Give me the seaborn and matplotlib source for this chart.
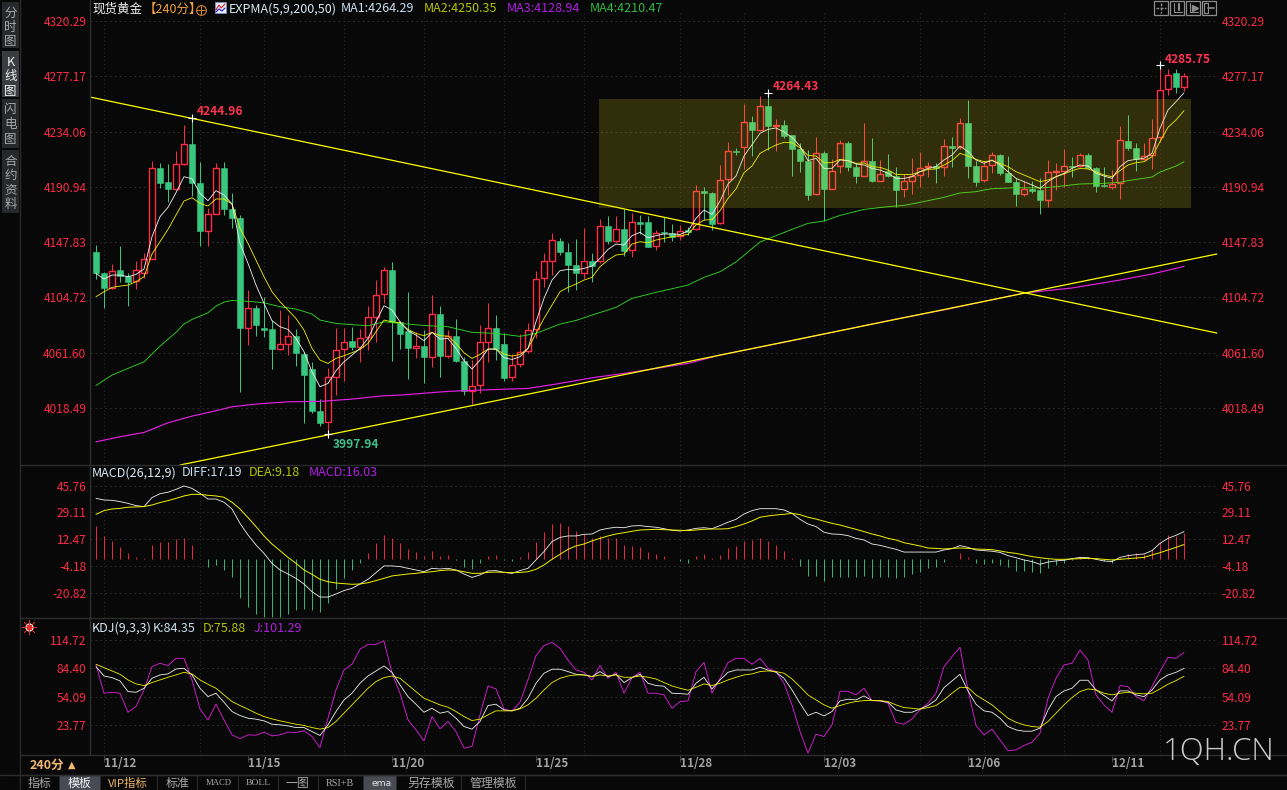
import numpy as np
import matplotlib
matplotlib.use("Agg")
import matplotlib.pyplot as plt
from matplotlib.patches import Rectangle
import seaborn as sns

# --------------------------
# candles
# --------------------------
opens = [4140.1,4123.8,4112.3,4126.1,4121.7,4117.5,4124.0,4134.9,4205.7,4194.7,4189.5,4209.0,4224.4,4194.0,4156.8,4170.0,4205.7,4173.7,4166.7,4081.1,
         4096.2,4080.9,4080.1,4064.2,4068.6,4074.6,4060.6,4048.9,4016.1,4007.8,4042.9,4064.2,4070.7,4066.3,4074.1,4089.7,4107.6,4126.1,4085.3,4078.5,
         4065.5,4066.8,4058.5,4091.8,4059.3,4074.6,4055.1,4031.7,4036.1,4070.2,4080.9,4068.4,4042.4,4052.5,4062.7,4079.8,4119.6,4132.9,4148.7,4140.1,
         4130.0,4124.0,4133.1,4132.9,4160.4,4149.0,4158.1,4141.4,4163.3,4163.3,4144.6,4155.7,4154.7,4152.9,4157.3,4157.8,4187.7,4185.9,4162.5,4196.8,
         4218.9,4221.8,4241.5,4235.6,4254.0,4238.4,4239.2,4231.4,4220.5,4211.1,4185.1,4217.1,4189.5,4207.5,4225.2,4206.4,4199.7,4211.1,4195.8,4203.1,
         4199.4,4189.0,4195.8,4200.2,4206.4,4207.2,4206.2,4222.6,4221.8,4240.8,4207.2,4196.6,4207.7,4215.5,4201.8,4194.7,4185.6,4189.0,4188.5,4181.0,
         4202.5,4203.6,4207.0,4207.2,4215.5,4205.4,4192.4,4191.1,4193.7,4226.7,4221.3,4212.9,4216.1,4229.6,4267.0,4279.5,4269.1]
highs = [4145.6,4124.8,4130.8,4144.8,4123.5,4132.9,4139.1,4211.1,4209.3,4208.5,4218.9,4239.2,4244.96,4210.3,4174.2,4209.3,4210.3,4186.4,4169.0,4110.5,
         4098.8,4105.3,4087.1,4094.9,4091.0,4080.1,4062.4,4054.6,4025.5,4049.4,4080.6,4080.6,4081.9,4079.8,4098.3,4118.3,4128.7,4132.1,4086.6,4108.9,
         4078.0,4079.3,4106.3,4098.0,4079.3,4087.9,4058.5,4055.9,4083.2,4100.1,4091.0,4076.7,4060.3,4076.2,4084.5,4125.3,4139.1,4154.7,4150.8,4146.9,
         4150.3,4158.6,4139.1,4165.6,4168.2,4168.2,4173.4,4170.8,4169.0,4168.2,4157.3,4167.2,4162.0,4161.2,4159.9,4192.4,4190.6,4187.2,4208.0,4225.7,
         4221.0,4255.6,4246.2,4261.8,4264.43,4243.6,4243.1,4231.4,4224.9,4219.7,4230.1,4218.9,4212.4,4227.5,4227.0,4209.3,4240.5,4228.8,4211.9,4216.6,
         4206.7,4201.0,4213.2,4217.9,4210.6,4209.8,4228.3,4230.1,4244.9,4258.7,4211.4,4211.4,4218.1,4216.6,4215.0,4197.6,4195.5,4195.8,4197.6,4211.9,
         4209.3,4220.5,4214.5,4217.1,4217.1,4206.7,4206.7,4204.1,4238.4,4247.0,4224.9,4224.9,4243.6,4285.75,4282.9,4282.9,4279.5]
lows = [4119.1,4096.7,4111.5,4117.0,4098.3,4111.3,4119.6,4134.4,4189.8,4179.1,4189.0,4208.3,4183.8,4145.1,4145.1,4169.5,4169.0,4158.6,4031.2,4067.6,
        4074.6,4073.6,4049.1,4063.7,4059.8,4051.2,4006.5,4014.8,4004.7,3997.94,4028.6,4039.5,4063.7,4054.6,4063.7,4070.2,4100.1,4055.4,4064.5,4041.1,
        4057.7,4038.2,4050.7,4042.9,4057.7,4054.6,4028.6,4021.6,4030.4,4054.6,4055.9,4039.8,4039.8,4050.7,4061.6,4072.8,4113.1,4122.2,4137.8,4109.2,
        4110.5,4119.6,4117.0,4131.3,4146.4,4148.2,4137.0,4136.5,4154.2,4143.8,4141.7,4148.2,4149.0,4149.5,4153.4,4157.3,4165.1,4157.3,4162.0,4184.6,
        4215.8,4204.9,4215.0,4234.8,4219.7,4218.9,4228.8,4199.4,4202.8,4180.7,4184.6,4164.3,4189.0,4202.0,4203.3,4194.2,4199.2,4195.0,4195.3,4198.4,
        4175.5,4183.3,4185.4,4191.1,4198.9,4194.2,4199.7,4206.7,4220.2,4198.1,4191.9,4194.5,4202.0,4200.2,4195.0,4176.3,4183.8,4185.9,4170.0,4175.5,
        4188.5,4191.1,4198.9,4206.2,4205.4,4187.2,4190.6,4189.0,4181.7,4219.7,4203.6,4211.9,4205.1,4226.2,4262.9,4264.2,4266.0]
closes = [4124.0,4112.1,4125.1,4121.7,4117.0,4125.8,4134.4,4205.4,4194.2,4189.3,4208.5,4224.1,4194.2,4156.5,4169.5,4205.4,4173.7,4166.7,4080.9,4096.2,
          4083.2,4079.3,4064.5,4068.1,4074.4,4061.4,4044.5,4016.1,4006.8,4042.4,4063.4,4070.2,4066.0,4073.3,4089.2,4106.9,4125.8,4085.8,4076.4,4065.5,
          4066.8,4058.5,4091.5,4059.3,4074.9,4055.4,4031.7,4035.4,4069.7,4080.6,4064.5,4042.1,4051.7,4061.9,4079.0,4118.8,4132.9,4149.2,4140.4,4130.0,
          4124.0,4132.9,4129.2,4160.2,4148.7,4157.8,4141.2,4163.3,4162.0,4144.3,4155.2,4154.7,4152.1,4156.8,4155.5,4187.5,4186.4,4162.0,4196.0,4218.7,
          4218.1,4241.3,4235.3,4253.8,4238.4,4239.2,4230.6,4220.7,4211.1,4184.6,4217.1,4189.5,4203.6,4224.9,4206.7,4199.7,4210.9,4195.8,4201.2,4199.7,
          4188.8,4195.3,4199.4,4205.9,4207.2,4205.9,4222.6,4221.3,4240.5,4207.5,4195.0,4207.2,4215.5,4202.0,4195.0,4185.6,4189.0,4187.7,4181.0,4202.3,
          4203.3,4207.0,4206.2,4215.5,4205.4,4191.6,4191.6,4193.2,4227.2,4221.3,4212.7,4215.3,4228.8,4266.8,4277.9,4268.8,4277.2]

ma1 = [4123.5,4119.1,4122.2,4122.2,4120.9,4122.7,4126.9,4152.1,4167.7,4175.0,4186.4,4198.9,4197.3,4185.9,4180.2,4188.0,4184.6,4177.6,4146.9,4131.3,
       4114.4,4100.1,4086.6,4081.9,4079.8,4072.8,4062.4,4046.8,4035.1,4037.7,4047.6,4054.6,4059.8,4065.0,4072.8,4085.8,4098.3,4094.9,4085.8,4078.8,
       4075.4,4071.0,4077.5,4072.3,4072.8,4065.0,4055.4,4048.9,4055.9,4064.5,4064.5,4057.7,4056.4,4058.5,4065.0,4085.8,4104.0,4118.3,4125.6,4126.6,
       4126.1,4127.4,4129.2,4135.2,4142.2,4146.4,4145.6,4152.9,4155.5,4151.3,4152.9,4154.2,4154.2,4153.9,4156.5,4166.4,4172.9,4169.5,4179.9,4193.2,
       4199.4,4215.0,4223.9,4232.7,4235.8,4236.9,4233.7,4229.6,4222.8,4211.4,4213.2,4205.4,4205.4,4211.9,4211.4,4208.8,4208.0,4205.4,4204.1,4201.5,
       4197.6,4197.6,4198.9,4202.8,4205.4,4206.7,4211.9,4215.8,4222.8,4218.4,4211.9,4209.3,4211.9,4208.0,4202.8,4197.6,4195.0,4192.4,4189.8,4195.0,
       4198.9,4201.5,4205.4,4208.0,4207.2,4201.5,4199.4,4197.6,4206.7,4211.4,4212.4,4213.2,4217.1,4236.6,4250.9,4257.4,4264.29]
ma2 = [4105.3,4109.2,4112.6,4113.6,4114.4,4117.0,4120.9,4138.6,4148.2,4157.8,4169.0,4179.9,4182.5,4178.1,4176.0,4181.5,4181.5,4177.6,4158.6,4146.9,
       4133.9,4120.9,4109.2,4101.4,4094.9,4088.4,4079.3,4065.0,4055.9,4053.3,4057.2,4059.3,4061.6,4064.2,4068.9,4078.0,4087.1,4085.8,4085.0,4079.8,
       4076.7,4074.9,4077.5,4074.9,4074.6,4068.9,4061.6,4057.2,4060.3,4064.5,4064.5,4060.6,4059.0,4060.3,4065.0,4076.7,4088.4,4098.8,4109.2,4112.6,
       4115.2,4118.3,4120.4,4128.7,4133.9,4137.8,4138.6,4146.4,4148.2,4147.4,4149.5,4150.8,4152.1,4152.9,4153.9,4161.2,4165.1,4165.4,4172.4,4182.0,
       4189.3,4202.0,4207.2,4217.1,4220.5,4223.6,4225.7,4225.4,4221.5,4215.5,4215.0,4209.8,4209.8,4212.4,4211.4,4209.3,4209.6,4206.7,4206.2,4204.1,
       4200.7,4200.5,4200.7,4202.8,4204.6,4204.9,4208.0,4211.4,4217.1,4215.0,4212.4,4210.6,4211.4,4209.3,4206.7,4202.8,4200.2,4197.6,4195.0,4196.3,
       4198.9,4201.0,4203.6,4205.4,4204.9,4202.8,4200.2,4198.9,4203.6,4208.0,4209.8,4210.6,4214.5,4226.2,4237.4,4243.1,4250.35]
ma3_idx = [0,3,6,9,12,15,17,20,24,28,32,36,38,44,50,54,58,62,66,70,74,78,88,94,100,106,116,122,128,132,136]
ma3 = [3992.2,3996.1,3999.5,4007.0,4012.2,4016.4,4019.5,4021.6,4023.4,4023.7,4025.5,4028.1,4028.6,4031.5,4033.0,4033.8,4037.7,4042.1,4045.5,4049.4,4053.3,4059.8,
       4072.3,4080.1,4087.9,4095.0,4108.2,4112.1,4118.3,4123.0,4128.94]
ma4_idx = [0,2,6,8,10,11,12,14,15,16,17,19,21,23,25,27,28,30,32,34,36,38,41,44,47,50,53,55,58,60,62,65,67,70,74,76,78,80,83,87,89,91,93,96,99,101,103,106,108,110,
           111,112,115,118,120,123,126,128,129,132,133,135,136]
ma4 = [4036.1,4044.2,4054.6,4066.8,4077.5,4084.0,4087.6,4092.8,4098.0,4101.1,4102.4,4101.7,4100.6,4097.5,4095.7,4091.8,4087.1,4084.5,4083.5,4082.7,4085.8,4084.5,4082.9,
       4081.9,4077.5,4076.7,4074.4,4076.7,4084.0,4086.8,4091.0,4097.0,4104.0,4108.7,4114.4,4120.4,4124.8,4132.4,4148.0,4157.8,4162.5,4164.3,4168.7,4173.4,4175.5,4176.5,
       4178.9,4182.8,4186.2,4187.2,4188.5,4189.5,4190.3,4190.1,4191.1,4193.2,4193.7,4194.5,4195.8,4198.6,4202.5,4207.2,4210.47]

# drawn trend lines and the box, as (candle index, price)
trend_down = ([-0.75, 140.1], [4261.0, 4077.0])
trend_up = ([10.5, 140.1], [3974.1, 4138.6])
box_x = (62.9, 136.9)
box_y = (4174.5, 4259.5)

diff = [37.8,36.8,36.6,35.8,34.7,33.3,32.7,38.3,40.7,41.6,43.4,45.5,44.0,40.9,37.4,37.4,35.4,31.2,22.3,15.1,8.9,3.7,-2.5,-6.6,-9.1,-11.8,-15.3,-20.1,-23.4,-23.4,
        -21.5,-19.4,-18.0,-15.3,-12.4,-8.3,-4.1,-4.1,-4.5,-5.6,-6.6,-7.7,-5.6,-6.0,-5.6,-6.6,-9.1,-11.2,-9.7,-7.2,-7.0,-8.1,-8.7,-7.0,-5.6,-0.4,4.8,11.0,13.6,14.5,
        14.5,15.5,15.7,18.2,19.2,19.9,19.6,20.7,20.9,20.3,19.9,19.0,18.0,17.6,18.2,19.2,19.6,19.0,20.9,23.0,24.8,28.1,30.2,31.4,31.4,31.4,30.6,28.5,24.8,21.9,
        20.3,16.8,15.7,15.5,14.7,13.0,12.0,9.5,8.7,7.4,6.2,4.5,4.5,4.5,4.5,4.5,5.8,6.6,8.5,7.4,5.8,5.4,5.0,4.3,2.3,1.0,-0.4,-1.4,-3.1,-1.7,
        -1.0,-0.6,0.4,1.2,1.0,0.0,-1.0,-1.4,1.2,2.3,2.9,3.3,5.4,9.9,13.0,14.9,17.19]
dea = [27.9,30.2,31.2,31.6,32.3,32.5,32.7,33.7,35.2,36.4,37.8,39.3,40.3,40.3,39.7,39.3,38.5,35.4,31.2,25.9,20.3,14.5,9.5,5.4,1.2,-2.5,-6.6,-9.3,-12.4,-13.9,
       -14.7,-15.1,-15.5,-15.3,-14.5,-13.2,-11.8,-10.3,-9.7,-9.1,-8.7,-8.1,-7.7,-7.0,-6.6,-6.8,-7.7,-8.7,-8.7,-8.1,-7.9,-8.1,-8.3,-8.1,-7.7,-6.2,-3.5,0.0,3.1,6.2,
       8.3,9.5,11.4,13.0,14.5,15.7,16.5,17.4,18.2,18.4,18.6,18.4,18.2,18.0,17.8,18.2,18.6,18.8,18.8,19.0,20.3,21.9,23.8,26.1,26.9,27.5,27.9,28.5,27.7,26.1,
       25.0,23.6,22.3,21.3,19.9,18.6,17.2,15.7,14.5,13.0,12.0,10.3,9.3,8.3,7.0,6.8,6.4,6.8,7.0,6.8,6.4,6.2,6.0,5.2,4.3,3.7,2.7,1.7,1.0,0.4,
       0.0,0.0,0.2,0.4,0.6,0.4,0.0,-0.4,0.0,0.4,0.8,1.2,2.7,4.1,5.8,7.4,9.18]
macd_bar = [20.7,14.5,11.4,7.7,4.1,1.2,0.8,8.9,11.0,11.0,12.4,13.4,9.1,0.2,-4.5,-3.5,-6.6,-10.8,-23.8,-29.4,-33.9,-35.6,-36.0,-36.0,-33.9,-31.4,-31.0,-31.4,-32.5,-27.3,
            -18.2,-11.8,-6.6,-2.1,4.1,9.9,15.1,13.0,10.3,6.4,4.5,2.1,5.4,2.1,2.7,-0.3,-4.5,-6.0,-2.1,2.1,2.7,-0.4,-0.8,1.2,4.5,11.0,17.2,21.9,22.3,20.9,
            17.6,15.7,13.0,14.5,13.0,13.0,8.9,8.3,7.4,4.3,3.3,2.1,0.2,-0.8,-2.1,2.1,3.3,1.0,2.7,7.0,8.3,11.4,12.0,13.2,11.4,8.9,5.2,0.6,-4.1,-10.3,
            -10.3,-13.2,-11.2,-10.8,-10.8,-10.8,-10.3,-11.4,-11.2,-10.8,-11.4,-11.2,-9.3,-7.7,-5.6,-4.5,-1.4,0.2,3.7,1.2,-2.5,-2.9,-2.5,-3.5,-4.5,-7.0,-7.0,-7.9,-8.7,-5.6,
            -3.5,-2.1,-0.2,1.7,1.7,0.6,-0.8,-2.1,0.6,3.3,3.7,3.3,5.8,11.0,15.1,14.5,16.03]

k_line = [86.2,76.2,74.4,70.9,59.5,58.7,63.0,73.7,77.3,78.4,83.7,84.4,77.3,63.0,54.1,57.7,48.0,38.1,33.8,30.9,29.9,28.1,24.5,23.8,22.7,20.9,20.9,16.7,12.4,23.8,
          38.1,50.5,57.7,68.4,76.2,81.6,86.9,80.1,66.6,54.1,45.9,37.3,41.6,36.3,38.1,30.9,22.0,19.2,27.4,44.5,45.9,39.8,38.8,41.6,52.3,68.4,79.1,83.4,83.4,80.9,
          78.0,77.3,75.5,80.9,75.5,78.0,69.1,74.4,78.0,68.4,65.9,65.2,57.7,57.3,56.6,68.4,74.8,62.3,71.9,80.1,82.6,82.6,82.6,85.5,82.6,80.1,73.7,61.2,47.0,33.8,
          37.3,33.4,38.1,49.5,51.3,50.5,54.8,49.8,49.5,48.0,39.8,37.3,37.3,40.9,44.5,50.5,63.7,70.9,78.0,60.2,45.9,38.8,37.3,30.9,22.0,18.4,17.0,17.0,20.2,39.8,
          54.1,60.2,63.0,71.6,71.6,61.2,55.2,49.5,60.2,60.2,55.9,54.1,61.2,71.9,77.3,80.1,84.35]
d_line = [88.7,85.1,81.6,78.0,71.9,67.7,65.9,69.1,71.9,74.8,77.3,80.1,78.4,71.9,67.3,63.0,55.9,48.8,44.5,40.6,36.3,32.7,30.2,28.1,26.3,24.5,23.1,20.9,19.2,20.9,
          27.4,36.3,45.2,54.1,63.0,70.2,74.4,76.2,73.7,66.6,59.5,52.3,48.8,45.2,42.7,38.1,32.7,28.4,29.9,34.5,38.8,38.8,38.8,40.9,45.2,52.3,61.2,69.1,73.7,76.2,
          77.3,77.3,75.5,77.3,76.2,77.3,74.8,74.8,76.2,74.8,73.0,69.1,65.5,63.0,60.9,64.1,67.7,65.9,68.4,71.9,74.8,77.3,78.4,80.9,81.6,80.9,79.1,73.0,64.8,55.9,
          50.5,45.2,41.6,44.5,47.0,48.8,49.8,49.8,49.8,48.8,45.2,42.3,41.6,40.6,42.3,44.5,50.5,57.7,64.1,63.7,55.9,50.5,45.2,38.1,30.9,26.6,23.8,22.0,21.3,27.4,
          36.3,45.2,53.0,59.5,62.3,61.2,57.7,55.9,57.7,58.7,57.7,57.0,57.7,62.3,67.3,71.2,75.88]
j_line = [88.0,57.7,58.7,57.7,37.3,43.4,61.2,86.2,89.8,87.3,95.1,95.1,71.9,40.6,29.1,45.9,29.1,13.1,8.8,13.1,12.7,16.0,12.0,13.1,16.0,15.6,17.4,11.3,-0.5,30.9,
          61.2,82.6,88.7,104.8,110.1,110.1,113.7,79.1,57.7,29.1,18.4,6.7,32.7,19.5,27.4,16.7,-1.2,0.6,34.5,65.5,62.3,40.6,38.8,48.0,71.9,98.0,108.7,112.3,105.8,93.3,
          82.6,80.1,71.9,87.3,73.7,80.1,57.7,74.4,80.1,57.7,57.7,55.9,41.6,48.8,49.5,80.9,90.8,57.7,73.7,90.5,95.1,95.1,88.7,95.1,84.4,80.9,68.4,45.2,16.7,-6.5,
          13.8,11.3,23.8,59.8,59.8,55.9,63.0,49.8,49.5,47.0,26.3,24.5,30.2,39.8,47.0,57.7,86.2,96.9,106.9,61.2,23.1,13.1,19.2,7.7,-4.0,-3.0,1.7,5.2,14.9,52.3,
          73.7,88.0,89.8,104.0,93.3,55.9,45.2,37.3,65.9,64.8,54.1,49.8,64.8,80.9,96.2,95.1,101.29]

price_ticks = [4320.29,4277.17,4234.06,4190.94,4147.83,4104.72,4061.60,4018.49]
macd_ticks = [45.76,29.11,12.47,-4.18,-20.82]
kdj_ticks = [114.72,84.40,54.09,23.77]
grid_idx = [1,13,21,31,41,51,61,73,81,91,103,111,121,133,140.25]
date_idx = [1,19,37,55,73,91,109,127]
date_labels = ["11/12","11/15","11/20","11/25","11/28","12/03","12/06","12/11"]

# --------------------------
# style
# --------------------------
BG = "#080808"
RED = "#ff2b45"
GREEN = "#38c77f"
YELLOW = "#f2f200"
WHITE = "#f2f2f2"
MAGENTA = "#e41fe4"
sns.set_theme(style="dark", rc={"axes.facecolor": BG, "figure.facecolor": BG, "savefig.facecolor": BG})
plt.rcParams['font.family'] = ['Noto Sans CJK SC', 'DejaVu Sans']
plt.rcParams['axes.unicode_minus'] = False

fig = plt.figure(figsize=(12.87, 7.90), dpi=100)

def panel(top, bottom):
    ax = fig.add_axes([90/1287, 1-bottom/790, (1218-90)/1287, (bottom-top)/790])
    ax.set_xlim(-0.75, 140.25)
    for s in ax.spines.values():
        s.set_visible(False)
    return ax

def style_y(ax, ticks, fmt):
    ax.set_yticks(ticks)
    ax.set_yticklabels([fmt % t for t in ticks])
    ax.tick_params(axis='y', labelleft=True, labelright=True, left=False, right=False, length=0, labelcolor=RED, labelsize=8.6, pad=2.6)
    ax.tick_params(axis='x', bottom=False, labelbottom=False)
    for t in ticks:
        ax.axhline(t, color="#2a2a2a", lw=0.7, ls=(0, (2, 3)), zorder=0)
    for g in grid_idx:
        ax.axvline(g, color="#2a2a2a", lw=0.7, ls=(0, (1, 3)), zorder=0)

def line(ax, xs, ys, color, lw=0.6, z=4):
    sns.lineplot(x=xs, y=ys, color=color, lw=lw, ax=ax, estimator=None, errorbar=None, zorder=z, legend=False)
    ax.set(xlabel=None, ylabel=None)

idx = np.arange(len(closes))
o, h, l, c = map(np.array, (opens, highs, lows, closes))
up = c >= o

# --------------------------
# K line panel
# --------------------------
ax = panel(12, 465)
style_y(ax, price_ticks, "%.2f")
ax.vlines(idx[up], l[up], h[up], color=RED, lw=0.72, zorder=2)
ax.vlines(idx[~up], l[~up], h[~up], color=GREEN, lw=0.72, zorder=2)
ax.bar(idx[up], np.abs(c-o)[up], bottom=o[up], width=0.76, facecolor=BG, edgecolor=RED, lw=1.0, zorder=3)
ax.bar(idx[~up], (o-c)[~up], bottom=c[~up], width=0.86, facecolor=GREEN, edgecolor=GREEN, lw=0.4, zorder=3)
line(ax, ma3_idx, ma3, MAGENTA, lw=0.85)
line(ax, ma4_idx, ma4, "#2fd321", lw=0.65)
line(ax, idx, ma2, YELLOW)
line(ax, idx, ma1, WHITE)
ax.plot(*trend_down, color="#ffff00", lw=0.9, zorder=5)
ax.plot(*trend_up, color="#ffff00", lw=0.9, zorder=5)
ax.add_patch(Rectangle((box_x[0], box_y[0]), box_x[1]-box_x[0], box_y[1]-box_y[0], facecolor=(0.9, 0.85, 0.1), alpha=0.19, lw=0, zorder=6))

for i, dy, col, low in [(12, 6, "#ff3350", False), (84, 6, "#ff3350", False), (133, 6, "#ff3350", False), (29, -10, "#3fc088", True)]:
    v = lows[i] if low else highs[i]
    ax.plot(i, v, marker="+", ms=6, mew=0.8, color="white", zorder=7)
    ax.annotate("%.2f" % v, xy=(i, v), xytext=(5, dy), textcoords="offset pixels", color=col, fontsize=8.6, fontweight="bold",
                va="center", ha="left", zorder=8)
ax.set_ylim(3974.1, 4327.3)

# --------------------------
# MACD panel
# --------------------------
ax2 = panel(465, 618)
style_y(ax2, macd_ticks, "%.2f")
bars = np.array(macd_bar)
ax2.vlines(idx[bars >= 0], 0, bars[bars >= 0], color=RED, lw=0.65, zorder=2)
ax2.vlines(idx[bars < 0], 0, bars[bars < 0], color=GREEN, lw=0.65, zorder=2)
line(ax2, idx, diff, WHITE)
line(ax2, idx, dea, YELLOW, lw=0.7)
ax2.set_ylim(-36.4, 58.5)

# --------------------------
# KDJ panel
# --------------------------
ax3 = panel(618, 755)
style_y(ax3, kdj_ticks, "%.2f")
line(ax3, idx, j_line, MAGENTA)
line(ax3, idx, k_line, WHITE)
line(ax3, idx, d_line, YELLOW)
ax3.set_ylim(-8.5, 138.3)
ax3.set_xticks(date_idx)
ax3.set_xticklabels(date_labels, ha="left", color="#a2a2a2", fontsize=8.4, fontweight="bold")
ax3.tick_params(axis='x', bottom=True, labelbottom=True, length=5, width=0.7, color="#444444", pad=-3.5)
ax3.set_xlim(-0.75, 140.25)

# --------------------------
# window chrome
# --------------------------
ov = fig.add_axes([0, 0, 1, 1], zorder=10)
ov.set_xlim(0, 1287)
ov.set_ylim(790, 0)
ov.axis("off")
ov.patch.set_alpha(0)

def txt(x, y, s, color, size=9.0, **kw):
    ov.text(x, y, s, color=color, fontsize=size, va="center", ha=kw.pop("ha", "left"), **kw)

for y in [465, 618, 755, 775]:
    ov.plot([20, 1287], [y, y], color="#2c2c2c", lw=1)
ov.plot([90, 90], [0, 755], color="#303030", lw=1)
ov.plot([20, 20], [0, 790], color="#2c2c2c", lw=1)
ov.plot([0, 1287], [775, 775], color="#2c2c2c", lw=1)

# side tabs
for y0, y1, fc, chars, col in [(2, 48, "#26282c", "分时图", "#a8a8a8"), (51, 97, "#3a3c42", "K线图", "#f0f0f0"),
                               (99, 148, "#26282c", "闪电图", "#a8a8a8"), (150, 213, "#26282c", "合约资料", "#a8a8a8")]:
    ov.add_patch(Rectangle((2, y0), 17, y1-y0, facecolor=fc, lw=0))
    step = 14.5
    y = y0 + 11
    for ch in chars:
        txt(10.5, y, ch, col, size=9, ha="center")
        y += step

# header lines
txt(92, 9, "现货黄金", "#f0f0f0")
txt(144, 9, "【240分】", "#f0a040")
ov.plot(201, 10, marker="o", ms=7, mfc="none", mec="#d08030", mew=0.8)
ov.plot(201, 10, marker="+", ms=7, mec="#d08030", mew=0.7)
ov.add_patch(Rectangle((215, 2), 11, 11, facecolor="#e8ecf8", edgecolor="#8090c0", lw=0.6))
ov.plot([216, 219, 221, 225], [10, 5, 8, 4], color="#d02020", lw=0.8)
ov.plot([216, 219, 222, 225], [12, 9, 11, 8], color="#2020d0", lw=0.8)
txt(229, 9, "EXPMA(5,9,200,50)", "#d8e8f4")
txt(341, 9, "MA1:4264.29", "#c8e0f0")
txt(424, 9, "MA2:4250.35", "#b4c400")
txt(507, 9, "MA3:4128.94", "#b020e0")
txt(590, 9, "MA4:4210.47", "#30b840")

txt(92, 473, "MACD(26,12,9)", "#d8e8f4")
txt(182, 473, "DIFF:17.19", "#c8e0f0")
txt(249, 473, "DEA:9.18", "#b4c400")
txt(309, 473, "MACD:16.03", "#b020e0")

txt(92, 628, "KDJ(9,3,3)", "#d8e8f4")
txt(153, 628, "K:84.35", "#c8e0f0")
txt(203, 628, "D:75.88", "#b4c400")
txt(254, 628, "J:101.29", "#b020e0")
ov.plot(29, 627, marker="o", ms=5, mfc="#ff2020", mec="white", mew=0.9)
ov.plot(29, 627, marker=(8, 2, 0), ms=11, mec="#e03030", mew=0.5)

# toolbar top right
for x0 in [1154, 1170, 1186, 1202]:
    ov.add_patch(Rectangle((x0, 1), 14, 14, facecolor="none", edgecolor="#8c8c8c", lw=0.9))
ov.plot([1161, 1161], [3, 13], color="#8c8c8c", lw=1, ls=(0, (2, 1)))
ov.plot([1156, 1166], [8, 8], color="#8c8c8c", lw=1, ls=(0, (2, 1)))
for x0 in [1170, 1186]:
    ov.plot([x0+4, x0+4, x0+12], [3, 12, 12], color="#8c8c8c", lw=0.8)
ov.plot([1179, 1179], [4, 10], color="#8c8c8c", lw=1.6)
ov.plot(1195, 8, marker=">", ms=5, color="#8c8c8c")
ov.add_patch(Rectangle((1204, 3), 4, 10, facecolor="none", edgecolor="#8c8c8c", lw=0.8))
ov.plot([1208, 1214], [8, 8], color="#8c8c8c", lw=1.2)

# bottom bar
txt(30, 765, "240分", "#f0b870", size=9, fontweight="bold")
txt(68, 765, "▲", "#f0b870", size=7, family=["DejaVu Sans"])
ov.add_patch(Rectangle((60, 776), 40, 14, facecolor="#484a54", lw=0))
ov.add_patch(Rectangle((364, 776), 32, 14, facecolor="#484a54", lw=0))
for x in [59, 100, 157, 197, 238, 278, 318, 363, 396, 461, 525]:
    ov.plot([x, x], [776, 790], color="#2a2a2a", lw=0.8)
for x, s, col, fam, size in [(28, "指标", "#a8a8a8", None, 8.6), (68, "模板", "#f4f4f4", None, 8.6), (108, "VIP指标", "#e8b464", None, 8.2),
                             (166, "标准", "#a8a8a8", None, 8.6), (206, "MACD", "#a8a8a8", "Liberation Serif", 6.2),
                             (246, "BOLL", "#a8a8a8", "Liberation Serif", 6.8), (286, "一图", "#a8a8a8", None, 8.6),
                             (326, "RSI+B", "#a8a8a8", "Liberation Serif", 7.4), (372, "ema", "#e8e8e8", "DejaVu Sans", 6.6),
                             (407, "另存模板", "#a8a8a8", None, 8.6), (469, "管理模板", "#a8a8a8", None, 8.6)]:
    if fam:
        txt(x, 783, s, col, size=size, family=[fam])
    else:
        txt(x, 783, s, col, size=size)

txt(1163, 752, "1QH.CN", "#c9c9c9", size=22.4, family=["Open Sans"], fontweight="light")

fig.savefig("out.png", dpi=100)
